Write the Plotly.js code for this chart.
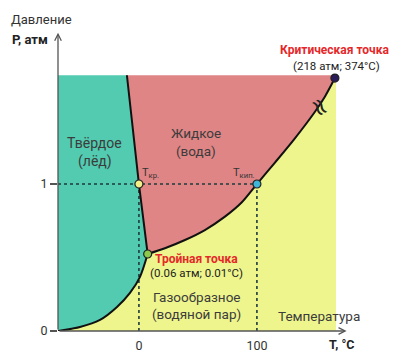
<!DOCTYPE html>
<html><head><meta charset="utf-8">
<script src="https://cdn.plot.ly/plotly-3.0.1.min.js"></script>
<style>html,body{margin:0;padding:0;background:#fff}#c{width:394px;height:352px}</style>
</head><body><div id="c"></div>
<script>
// schematic water phase diagram (T in °C-like schematic units, P in atm-like schematic units)
const T_MIN = -68.6, T_MAX = 167, P_TOP = 1.74;
const subT = [-68.6, -50, -33, -18.6, -7.6, 0.8, 7.4];
const subP = [0, 0.027, 0.075, 0.163, 0.259, 0.367, 0.524];
const meltT = [7.4, 0, -10.2];
const meltP = [0.524, 1, 1.74];
const boilT = [7.4, 22.0, 39.0, 55.9, 72.9, 87.0, 100, 115.3, 132.2, 149.2, 157.6, 166.1];
const boilP = [0.524, 0.563, 0.619, 0.687, 0.778, 0.874, 1.0, 1.146, 1.311, 1.492, 1.594, 1.721];
const xTicks = [0, 100], xTickText = ['0', '100'];
const yTicks = [0, 1], yTickText = ['0', '1'];
const triple = [7.4, 0.524], tFreeze = [0, 1], tBoil = [100, 1], crit = [166.1, 1.721];

const rev = a => a.slice().reverse();
const solidX = [...subT, ...meltT.slice(1), T_MIN];
const solidY = [...subP, ...meltP.slice(1), P_TOP];
const liqX = [...boilT, T_MAX, ...rev(meltT)];
const liqY = [...boilP, P_TOP, ...rev(meltP)];
const gasX = [T_MIN, T_MAX, T_MAX, ...rev(boilT), ...rev(subT)];
const gasY = [0, 0, boilP[boilP.length-1], ...rev(boilP), ...rev(subP)];

const poly = (x, y, c) => ({x, y, type:'scatter', mode:'lines', fill:'toself', fillcolor:c, line:{width:0}, hoverinfo:'skip'});
const curve = (x, y) => ({x, y, type:'scatter', mode:'lines', line:{color:'#111', width:2, shape:'spline', smoothing:0.8}, hoverinfo:'skip'});
const dotted = (x, y) => ({x, y, type:'scatter', mode:'lines', line:{color:'#1d3b3b', width:1.6, dash:'dot'}, hoverinfo:'skip'});
const pt = (p, c) => ({x:[p[0]], y:[p[1]], type:'scatter', mode:'markers', marker:{size:8, color:c, line:{color:'#222', width:1.2}}, hoverinfo:'skip'});

const data = [
  poly(gasX, gasY, '#eef58c'),
  poly(liqX, liqY, '#df8585'),
  poly(solidX, solidY, '#52cbb0'),
  dotted([T_MIN, 100], [1, 1]),
  dotted([0, 0], [0, 1]),
  dotted([100, 100], [0, 1]),
  curve(subT, subP),
  curve(meltT, meltP),
  curve(boilT, boilP),
  pt(tFreeze, '#f3f08a'),
  pt(tBoil, '#3fb6d8'),
  pt(triple, '#8cc84b'),
  pt(crit, '#2b1d5a')
];

const F = 'Roboto, "Open Sans", sans-serif';
const txt = (x, y, t, o) => Object.assign({x, y, xref:'x', yref:'y', text:t, showarrow:false, xanchor:'center', yanchor:'middle', font:{family:F, size:13.5, color:'#3c3c3c'}}, o||{});
const ptxt = (x, y, t, font) => ({x, y, xref:'paper', yref:'paper', text:t, showarrow:false, xanchor:'center', yanchor:'middle', font});
const red = {family:F, size:12, color:'#e5282a', weight:'bold'};
const sub = {family:F, size:11.5, color:'#222'};

const annotations = [
  // axes arrows
  {x:176, y:0, ax:T_MIN, ay:0, xref:'x', yref:'y', axref:'x', ayref:'y', text:'', showarrow:true, arrowhead:5, arrowsize:1, arrowwidth:1.3, arrowcolor:'#555'},
  {x:T_MIN, y:2.03, ax:T_MIN, ay:0, xref:'x', yref:'y', axref:'x', ayref:'y', text:'', showarrow:true, arrowhead:5, arrowsize:1, arrowwidth:1.3, arrowcolor:'#555'},
  ptxt(-0.0548, 1.003, 'Давление', {family:F, size:13, color:'#333'}),
  ptxt(-0.0959, 0.9357, 'P, атм', {family:F, size:13, color:'#222', weight:'bold'}),
  ptxt(0.9726, -0.0437, 'T, °C', {family:F, size:12.5, color:'#222', weight:'bold'}),
  txt(153, 0.102, 'Температура'),
  txt(-37.3, 1.279, 'Твёрдое', {font:{family:F, size:14, color:'#3c3c3c'}}),
  txt(-37.3, 1.150, '(лёд)', {font:{family:F, size:14, color:'#3c3c3c'}}),
  txt(48.3, 1.347, 'Жидкое'),
  txt(48.3, 1.224, '(вода)'),
  txt(49, 0.231, 'Газообразное'),
  txt(49, 0.116, '(водяной пар)'),
  txt(10, 1.075, 'T<sub>кр.</sub>', {font:{family:F, size:11, color:'#333'}}),
  txt(89, 1.075, 'T<sub>кип.</sub>', {font:{family:F, size:11, color:'#333'}}),
  txt(48.8, 0.493, 'Тройная точка', {font:red}),
  txt(48.8, 0.395, '(0.06 атм; 0.01°C)', {font:sub}),
  txt(166.5, 1.912, 'Критическая точка', {font:red}),
  txt(167.3, 1.805, '(218 атм; 374°C)', {font:sub}),
  txt(153.4, 1.524, '≈', {textangle:60, font:{family:'DejaVu Sans, sans-serif', size:24, color:'#222'}})
];

const layout = {
  width:394, height:352,
  margin:{l:58, r:44, t:20, b:21},
  paper_bgcolor:'#fff', plot_bgcolor:'#fff',
  showlegend:false,
  xaxis:{range:[T_MIN, 178.9], showgrid:false, zeroline:false, showline:false, tickvals:xTicks, ticktext:xTickText, ticks:'', ticklabelstandoff:5, tickfont:{family:F, size:12.5, color:'#333'}, fixedrange:true},
  yaxis:{range:[0, 2.116], showgrid:false, zeroline:false, showline:false, tickvals:yTicks, ticktext:yTickText, ticks:'outside', ticklen:7, tickwidth:1.2, tickcolor:'#555', tickfont:{family:F, size:12.5, color:'#333'}, fixedrange:true},
  annotations:annotations
};
Plotly.newPlot('c', data, layout, {displayModeBar:false, staticPlot:true});
</script></body></html>
